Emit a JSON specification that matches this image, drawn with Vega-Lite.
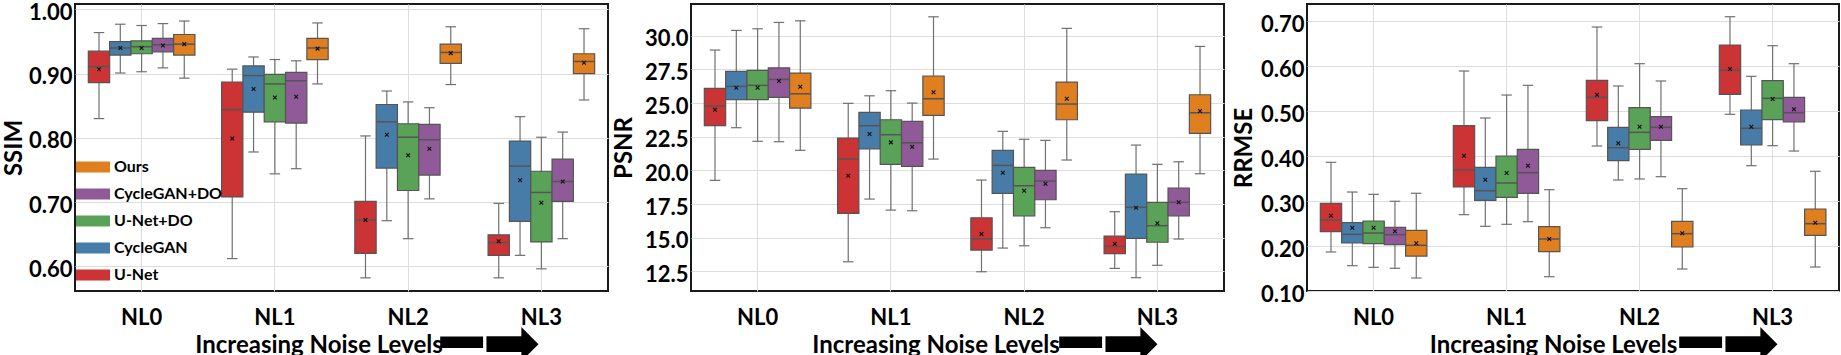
{
"$schema": "https://vega.github.io/schema/vega-lite/v6.json",
"background": "white",
"padding": {"left": 1, "top": 0, "right": 0, "bottom": 0},
"bounds": "flush",
"spacing": 83,
"datasets": {"d": [
{"m":"SSIM","lv":"NL0","me":"U-Net","lo":0.830,"q1":0.886,"md":0.911,"q3":0.935,"hi":0.964,"mn":0.907},
{"m":"SSIM","lv":"NL0","me":"CycleGAN","lo":0.901,"q1":0.929,"md":0.940,"q3":0.950,"hi":0.977,"mn":0.940},
{"m":"SSIM","lv":"NL0","me":"U-Net+DO","lo":0.903,"q1":0.931,"md":0.942,"q3":0.951,"hi":0.975,"mn":0.940},
{"m":"SSIM","lv":"NL0","me":"CycleGAN+DO","lo":0.909,"q1":0.934,"md":0.945,"q3":0.955,"hi":0.978,"mn":0.944},
{"m":"SSIM","lv":"NL0","me":"Ours","lo":0.893,"q1":0.929,"md":0.946,"q3":0.961,"hi":0.982,"mn":0.946},
{"m":"SSIM","lv":"NL1","me":"U-Net","lo":0.612,"q1":0.708,"md":0.844,"q3":0.887,"hi":0.907,"mn":0.799},
{"m":"SSIM","lv":"NL1","me":"CycleGAN","lo":0.778,"q1":0.840,"md":0.897,"q3":0.912,"hi":0.926,"mn":0.876},
{"m":"SSIM","lv":"NL1","me":"U-Net+DO","lo":0.744,"q1":0.825,"md":0.884,"q3":0.899,"hi":0.922,"mn":0.863},
{"m":"SSIM","lv":"NL1","me":"CycleGAN+DO","lo":0.752,"q1":0.823,"md":0.889,"q3":0.902,"hi":0.920,"mn":0.864},
{"m":"SSIM","lv":"NL1","me":"Ours","lo":0.884,"q1":0.922,"md":0.940,"q3":0.955,"hi":0.979,"mn":0.939},
{"m":"SSIM","lv":"NL2","me":"U-Net","lo":0.582,"q1":0.620,"md":0.672,"q3":0.701,"hi":0.803,"mn":0.672},
{"m":"SSIM","lv":"NL2","me":"CycleGAN","lo":0.671,"q1":0.753,"md":0.825,"q3":0.852,"hi":0.873,"mn":0.805},
{"m":"SSIM","lv":"NL2","me":"U-Net+DO","lo":0.643,"q1":0.718,"md":0.801,"q3":0.822,"hi":0.856,"mn":0.773},
{"m":"SSIM","lv":"NL2","me":"CycleGAN+DO","lo":0.705,"q1":0.742,"md":0.797,"q3":0.821,"hi":0.847,"mn":0.783},
{"m":"SSIM","lv":"NL2","me":"Ours","lo":0.883,"q1":0.916,"md":0.933,"q3":0.946,"hi":0.973,"mn":0.932},
{"m":"SSIM","lv":"NL3","me":"U-Net","lo":0.582,"q1":0.617,"md":0.637,"q3":0.649,"hi":0.698,"mn":0.639},
{"m":"SSIM","lv":"NL3","me":"CycleGAN","lo":0.617,"q1":0.670,"md":0.756,"q3":0.795,"hi":0.833,"mn":0.734},
{"m":"SSIM","lv":"NL3","me":"U-Net+DO","lo":0.596,"q1":0.638,"md":0.715,"q3":0.748,"hi":0.801,"mn":0.699},
{"m":"SSIM","lv":"NL3","me":"CycleGAN+DO","lo":0.643,"q1":0.701,"md":0.732,"q3":0.767,"hi":0.809,"mn":0.732},
{"m":"SSIM","lv":"NL3","me":"Ours","lo":0.859,"q1":0.900,"md":0.919,"q3":0.931,"hi":0.970,"mn":0.917},
{"m":"PSNR","lv":"NL0","me":"U-Net","lo":19.26,"q1":23.32,"md":24.78,"q3":26.09,"hi":28.94,"mn":24.50},
{"m":"PSNR","lv":"NL0","me":"CycleGAN","lo":23.17,"q1":25.25,"md":26.24,"q3":27.36,"hi":30.40,"mn":26.14},
{"m":"PSNR","lv":"NL0","me":"U-Net+DO","lo":22.16,"q1":25.25,"md":26.32,"q3":27.43,"hi":30.52,"mn":26.14},
{"m":"PSNR","lv":"NL0","me":"CycleGAN+DO","lo":22.13,"q1":25.42,"md":26.76,"q3":27.62,"hi":30.99,"mn":26.64},
{"m":"PSNR","lv":"NL0","me":"Ours","lo":21.49,"q1":24.63,"md":25.69,"q3":27.23,"hi":31.11,"mn":26.21},
{"m":"PSNR","lv":"NL1","me":"U-Net","lo":13.21,"q1":16.81,"md":20.84,"q3":22.40,"hi":24.98,"mn":19.60},
{"m":"PSNR","lv":"NL1","me":"CycleGAN","lo":17.87,"q1":21.59,"md":23.32,"q3":24.31,"hi":25.54,"mn":22.70},
{"m":"PSNR","lv":"NL1","me":"U-Net+DO","lo":17.05,"q1":20.45,"md":22.65,"q3":23.76,"hi":25.92,"mn":22.08},
{"m":"PSNR","lv":"NL1","me":"CycleGAN+DO","lo":17.00,"q1":20.30,"md":22.05,"q3":23.64,"hi":25.00,"mn":21.76},
{"m":"PSNR","lv":"NL1","me":"Ours","lo":20.84,"q1":24.09,"md":25.32,"q3":27.01,"hi":31.41,"mn":25.80},
{"m":"PSNR","lv":"NL2","me":"U-Net","lo":12.47,"q1":14.08,"md":14.92,"q3":16.48,"hi":19.28,"mn":15.27},
{"m":"PSNR","lv":"NL2","me":"CycleGAN","lo":14.23,"q1":18.29,"md":20.37,"q3":21.49,"hi":22.90,"mn":19.83},
{"m":"PSNR","lv":"NL2","me":"U-Net+DO","lo":14.40,"q1":16.61,"md":18.86,"q3":20.22,"hi":22.31,"mn":18.49},
{"m":"PSNR","lv":"NL2","me":"CycleGAN+DO","lo":15.74,"q1":17.82,"md":19.21,"q3":20.00,"hi":22.23,"mn":19.01},
{"m":"PSNR","lv":"NL2","me":"Ours","lo":20.77,"q1":23.76,"md":24.93,"q3":26.56,"hi":30.55,"mn":25.32},
{"m":"PSNR","lv":"NL3","me":"U-Net","lo":12.72,"q1":13.81,"md":14.36,"q3":15.12,"hi":16.93,"mn":14.55},
{"m":"PSNR","lv":"NL3","me":"CycleGAN","lo":12.03,"q1":14.95,"md":17.25,"q3":19.73,"hi":21.88,"mn":17.22},
{"m":"PSNR","lv":"NL3","me":"U-Net+DO","lo":12.95,"q1":14.66,"md":15.89,"q3":17.63,"hi":20.45,"mn":16.07},
{"m":"PSNR","lv":"NL3","me":"CycleGAN+DO","lo":14.90,"q1":16.61,"md":17.63,"q3":18.69,"hi":20.64,"mn":17.63},
{"m":"PSNR","lv":"NL3","me":"Ours","lo":19.75,"q1":22.75,"md":24.28,"q3":25.62,"hi":29.21,"mn":24.41},
{"m":"RRMSE","lv":"NL0","me":"U-Net","lo":0.1868,"q1":0.2320,"md":0.2580,"q3":0.2951,"hi":0.3863,"mn":0.2675},
{"m":"RRMSE","lv":"NL0","me":"CycleGAN","lo":0.1563,"q1":0.2068,"md":0.2261,"q3":0.2520,"hi":0.3202,"mn":0.2408},
{"m":"RRMSE","lv":"NL0","me":"U-Net+DO","lo":0.1527,"q1":0.2053,"md":0.2290,"q3":0.2557,"hi":0.3151,"mn":0.2408},
{"m":"RRMSE","lv":"NL0","me":"CycleGAN+DO","lo":0.1505,"q1":0.2030,"md":0.2253,"q3":0.2417,"hi":0.2996,"mn":0.2328},
{"m":"RRMSE","lv":"NL0","me":"Ours","lo":0.1289,"q1":0.1778,"md":0.2016,"q3":0.2350,"hi":0.3174,"mn":0.2061},
{"m":"RRMSE","lv":"NL1","me":"U-Net","lo":0.2698,"q1":0.3314,"md":0.3692,"q3":0.4677,"hi":0.5894,"mn":0.4010},
{"m":"RRMSE","lv":"NL1","me":"CycleGAN","lo":0.2439,"q1":0.3018,"md":0.3231,"q3":0.3752,"hi":0.4849,"mn":0.3476},
{"m":"RRMSE","lv":"NL1","me":"U-Net+DO","lo":0.2484,"q1":0.3085,"md":0.3403,"q3":0.4003,"hi":0.5360,"mn":0.3625},
{"m":"RRMSE","lv":"NL1","me":"CycleGAN+DO","lo":0.2542,"q1":0.3174,"md":0.3632,"q3":0.4152,"hi":0.5576,"mn":0.3788},
{"m":"RRMSE","lv":"NL1","me":"Ours","lo":0.1318,"q1":0.1875,"md":0.2157,"q3":0.2431,"hi":0.3254,"mn":0.2157},
{"m":"RRMSE","lv":"NL2","me":"U-Net","lo":0.4226,"q1":0.4789,"md":0.5309,"q3":0.5687,"hi":0.6873,"mn":0.5367},
{"m":"RRMSE","lv":"NL2","me":"CycleGAN","lo":0.3469,"q1":0.3899,"md":0.4188,"q3":0.4642,"hi":0.5561,"mn":0.4286},
{"m":"RRMSE","lv":"NL2","me":"U-Net+DO","lo":0.3492,"q1":0.4152,"md":0.4530,"q3":0.5078,"hi":0.6057,"mn":0.4655},
{"m":"RRMSE","lv":"NL2","me":"CycleGAN+DO","lo":0.3543,"q1":0.4353,"md":0.4642,"q3":0.4878,"hi":0.5672,"mn":0.4655},
{"m":"RRMSE","lv":"NL2","me":"Ours","lo":0.1489,"q1":0.1979,"md":0.2275,"q3":0.2551,"hi":0.3276,"mn":0.2283},
{"m":"RRMSE","lv":"NL3","me":"U-Net","lo":0.4931,"q1":0.5376,"md":0.5910,"q3":0.6473,"hi":0.7102,"mn":0.5939},
{"m":"RRMSE","lv":"NL3","me":"CycleGAN","lo":0.3788,"q1":0.4248,"md":0.4620,"q3":0.5027,"hi":0.5776,"mn":0.4655},
{"m":"RRMSE","lv":"NL3","me":"U-Net+DO","lo":0.4233,"q1":0.4811,"md":0.5287,"q3":0.5679,"hi":0.6457,"mn":0.5271},
{"m":"RRMSE","lv":"NL3","me":"CycleGAN+DO","lo":0.4114,"q1":0.4760,"md":0.4967,"q3":0.5309,"hi":0.6057,"mn":0.5042},
{"m":"RRMSE","lv":"NL3","me":"Ours","lo":0.1534,"q1":0.2239,"md":0.2497,"q3":0.2824,"hi":0.3663,"mn":0.2519}
]},
"hconcat": [
{
"width": 533, "height": 287,
"data": {"name": "d"},
"transform": [{"filter": "datum.m == 'SSIM'"}],
"title": {"text": "━➡", "orient": "bottom", "anchor": "start", "frame": "group", "dx": 366, "offset": -12, "baseline": "middle", "fontSize": 69, "fontWeight": "normal", "font": "DejaVu Sans", "color": "black"},
"encoding": {
 "x": {"field": "lv", "type": "nominal", "title": "Increasing Noise Levels", "scale": {"paddingInner": 0, "paddingOuter": 0}, "axis": {"labelAngle": 0, "grid": true, "bandPosition": 0.5, "labelPadding": 33, "labelBaseline": "alphabetic", "titleX": 243.5, "titlePadding": 5}},
 "xOffset": {"field": "me", "type": "nominal", "sort": ["U-Net","CycleGAN","U-Net+DO","CycleGAN+DO","Ours"], "scale": {"paddingInner": 0, "paddingOuter": 0.625}}
},
"layer": [
 {"mark": {"type": "rule", "color": "#707070", "strokeWidth": 1.2}, "encoding": {"y": {"field": "lo", "type": "quantitative", "title": "SSIM", "scale": {"domain": [0.5615, 1.0085], "nice": false, "zero": false}, "axis": {"values": [0.6,0.65,0.7,0.75,0.8,0.85,0.9,0.95,1.0], "format": ".2f", "labelOffset": 3, "titleX": -54, "titleY": 143.5, "titleBaseline": "alphabetic"}}, "y2": {"field": "hi"}}},
 {"mark": {"type": "tick", "color": "#707070", "size": 10.5, "thickness": 1.2, "opacity": 1}, "encoding": {"y": {"field": "lo", "type": "quantitative", "title": "SSIM", "scale": {"domain": [0.5615, 1.0085], "nice": false, "zero": false}}}},
 {"mark": {"type": "tick", "color": "#707070", "size": 10.5, "thickness": 1.2, "opacity": 1}, "encoding": {"y": {"field": "hi", "type": "quantitative", "title": "SSIM", "scale": {"domain": [0.5615, 1.0085], "nice": false, "zero": false}}}},
 {"mark": {"type": "bar", "stroke": "#555555", "strokeWidth": 1.2, "opacity": 1}, "encoding": {"y": {"field": "q1", "type": "quantitative", "title": "SSIM", "scale": {"domain": [0.5615, 1.0085], "nice": false, "zero": false}}, "y2": {"field": "q3"},
   "color": {"field": "me", "type": "nominal", "scale": {"domain": ["U-Net","CycleGAN","U-Net+DO","CycleGAN+DO","Ours"], "range": ["#cb3335","#477ca8","#59a257","#905998","#df7f20"]},
     "legend": {"orient": "none", "legendX": 1, "legendY": 146, "title": null, "values": ["Ours","CycleGAN+DO","U-Net+DO","CycleGAN","U-Net"], "symbolType": "M-1,-0.3235H1V0.3235H-1Z", "symbolSize": 1156, "symbolStrokeWidth": 0, "symbolOpacity": 1, "labelFont": "Lato", "labelFontWeight": "bold", "labelFontSize": 16, "labelColor": "#000000", "labelOffset": 4, "rowPadding": 2}}}},
 {"mark": {"type": "tick", "color": "#555555", "size": 21, "thickness": 1.5, "opacity": 1}, "encoding": {"y": {"field": "md", "type": "quantitative", "title": "SSIM", "scale": {"domain": [0.5615, 1.0085], "nice": false, "zero": false}}}},
 {"mark": {"type": "point", "shape": "M-1,-1L1,1M-1,1L1,-1", "size": 14, "filled": false, "color": "#111111", "strokeWidth": 1.1, "opacity": 1}, "encoding": {"y": {"field": "mn", "type": "quantitative", "title": "SSIM", "scale": {"domain": [0.5615, 1.0085], "nice": false, "zero": false}}}}
]
},
{
"width": 533, "height": 287,
"data": {"name": "d"},
"transform": [{"filter": "datum.m == 'PSNR'"}],
"title": {"text": "━➡", "orient": "bottom", "anchor": "start", "frame": "group", "dx": 369, "offset": -12, "baseline": "middle", "fontSize": 69, "fontWeight": "normal", "font": "DejaVu Sans", "color": "black"},
"encoding": {
 "x": {"field": "lv", "type": "nominal", "title": "Increasing Noise Levels", "scale": {"paddingInner": 0, "paddingOuter": 0}, "axis": {"labelAngle": 0, "grid": true, "bandPosition": 0.5, "labelPadding": 33, "labelBaseline": "alphabetic", "titleX": 244.5, "titlePadding": 5}},
 "xOffset": {"field": "me", "type": "nominal", "sort": ["U-Net","CycleGAN","U-Net+DO","CycleGAN+DO","Ours"], "scale": {"paddingInner": 0, "paddingOuter": 0.625}}
},
"layer": [
 {"mark": {"type": "rule", "color": "#707070", "strokeWidth": 1.2}, "encoding": {"y": {"field": "lo", "type": "quantitative", "title": "PSNR", "scale": {"domain": [11.04, 32.36], "nice": false, "zero": false}, "axis": {"values": [12.5,15,17.5,20,22.5,25,27.5,30], "format": ".1f", "labelOffset": 3, "titleX": -60, "titleY": 143.5, "titleBaseline": "alphabetic"}}, "y2": {"field": "hi"}}},
 {"mark": {"type": "tick", "color": "#707070", "size": 10.5, "thickness": 1.2, "opacity": 1}, "encoding": {"y": {"field": "lo", "type": "quantitative", "title": "PSNR", "scale": {"domain": [11.04, 32.36], "nice": false, "zero": false}}}},
 {"mark": {"type": "tick", "color": "#707070", "size": 10.5, "thickness": 1.2, "opacity": 1}, "encoding": {"y": {"field": "hi", "type": "quantitative", "title": "PSNR", "scale": {"domain": [11.04, 32.36], "nice": false, "zero": false}}}},
 {"mark": {"type": "bar", "stroke": "#555555", "strokeWidth": 1.2, "opacity": 1}, "encoding": {"y": {"field": "q1", "type": "quantitative", "title": "PSNR", "scale": {"domain": [11.04, 32.36], "nice": false, "zero": false}}, "y2": {"field": "q3"},
   "color": {"field": "me", "type": "nominal", "scale": {"domain": ["U-Net","CycleGAN","U-Net+DO","CycleGAN+DO","Ours"], "range": ["#cb3335","#477ca8","#59a257","#905998","#df7f20"]}, "legend": null}}},
 {"mark": {"type": "tick", "color": "#555555", "size": 21, "thickness": 1.5, "opacity": 1}, "encoding": {"y": {"field": "md", "type": "quantitative", "title": "PSNR", "scale": {"domain": [11.04, 32.36], "nice": false, "zero": false}}}},
 {"mark": {"type": "point", "shape": "M-1,-1L1,1M-1,1L1,-1", "size": 14, "filled": false, "color": "#111111", "strokeWidth": 1.1, "opacity": 1}, "encoding": {"y": {"field": "mn", "type": "quantitative", "title": "PSNR", "scale": {"domain": [11.04, 32.36], "nice": false, "zero": false}}}}
]
},
{
"width": 532, "height": 287,
"data": {"name": "d"},
"transform": [{"filter": "datum.m == 'RRMSE'"}],
"title": {"text": "━➡", "orient": "bottom", "anchor": "start", "frame": "group", "dx": 373, "offset": -12, "baseline": "middle", "fontSize": 69, "fontWeight": "normal", "font": "DejaVu Sans", "color": "black"},
"encoding": {
 "x": {"field": "lv", "type": "nominal", "title": "Increasing Noise Levels", "scale": {"paddingInner": 0, "paddingOuter": 0}, "axis": {"labelAngle": 0, "grid": true, "bandPosition": 0.5, "labelPadding": 33, "labelBaseline": "alphabetic", "titleX": 246, "titlePadding": 5}},
 "xOffset": {"field": "me", "type": "nominal", "sort": ["U-Net","CycleGAN","U-Net+DO","CycleGAN+DO","Ours"], "scale": {"paddingInner": 0, "paddingOuter": 0.625}}
},
"layer": [
 {"mark": {"type": "rule", "color": "#707070", "strokeWidth": 1.2}, "encoding": {"y": {"field": "lo", "type": "quantitative", "title": "RRMSE", "scale": {"domain": [0.10, 0.7385], "nice": false, "zero": false}, "axis": {"values": [0.1,0.2,0.3,0.4,0.5,0.6,0.7], "format": ".2f", "labelOffset": 3, "titleX": -56, "titleY": 143.5, "titleBaseline": "alphabetic"}}, "y2": {"field": "hi"}}},
 {"mark": {"type": "tick", "color": "#707070", "size": 10.5, "thickness": 1.2, "opacity": 1}, "encoding": {"y": {"field": "lo", "type": "quantitative", "title": "RRMSE", "scale": {"domain": [0.10, 0.7385], "nice": false, "zero": false}}}},
 {"mark": {"type": "tick", "color": "#707070", "size": 10.5, "thickness": 1.2, "opacity": 1}, "encoding": {"y": {"field": "hi", "type": "quantitative", "title": "RRMSE", "scale": {"domain": [0.10, 0.7385], "nice": false, "zero": false}}}},
 {"mark": {"type": "bar", "stroke": "#555555", "strokeWidth": 1.2, "opacity": 1}, "encoding": {"y": {"field": "q1", "type": "quantitative", "title": "RRMSE", "scale": {"domain": [0.10, 0.7385], "nice": false, "zero": false}}, "y2": {"field": "q3"},
   "color": {"field": "me", "type": "nominal", "scale": {"domain": ["U-Net","CycleGAN","U-Net+DO","CycleGAN+DO","Ours"], "range": ["#cb3335","#477ca8","#59a257","#905998","#df7f20"]}, "legend": null}}},
 {"mark": {"type": "tick", "color": "#555555", "size": 21, "thickness": 1.5, "opacity": 1}, "encoding": {"y": {"field": "md", "type": "quantitative", "title": "RRMSE", "scale": {"domain": [0.10, 0.7385], "nice": false, "zero": false}}}},
 {"mark": {"type": "point", "shape": "M-1,-1L1,1M-1,1L1,-1", "size": 14, "filled": false, "color": "#111111", "strokeWidth": 1.1, "opacity": 1}, "encoding": {"y": {"field": "mn", "type": "quantitative", "title": "RRMSE", "scale": {"domain": [0.10, 0.7385], "nice": false, "zero": false}}}}
]
}
],
"resolve": {"scale": {"color": "shared"}},
"config": {
 "font": "Lato",
 "view": {"stroke": "#1a1a1a", "strokeWidth": 2},
 "axis": {"labelFont": "Lato", "labelFontWeight": "bold", "labelFontSize": 22, "labelColor": "#000000", "titleFont": "Lato", "titleFontWeight": "bold", "titleFontSize": 24, "titleColor": "#000000", "domain": false, "ticks": false, "tickSize": 0, "labelPadding": 3, "gridColor": "#dddddd", "gridWidth": 1, "labelFlush": false, "labelOverlap": false}
}
}
